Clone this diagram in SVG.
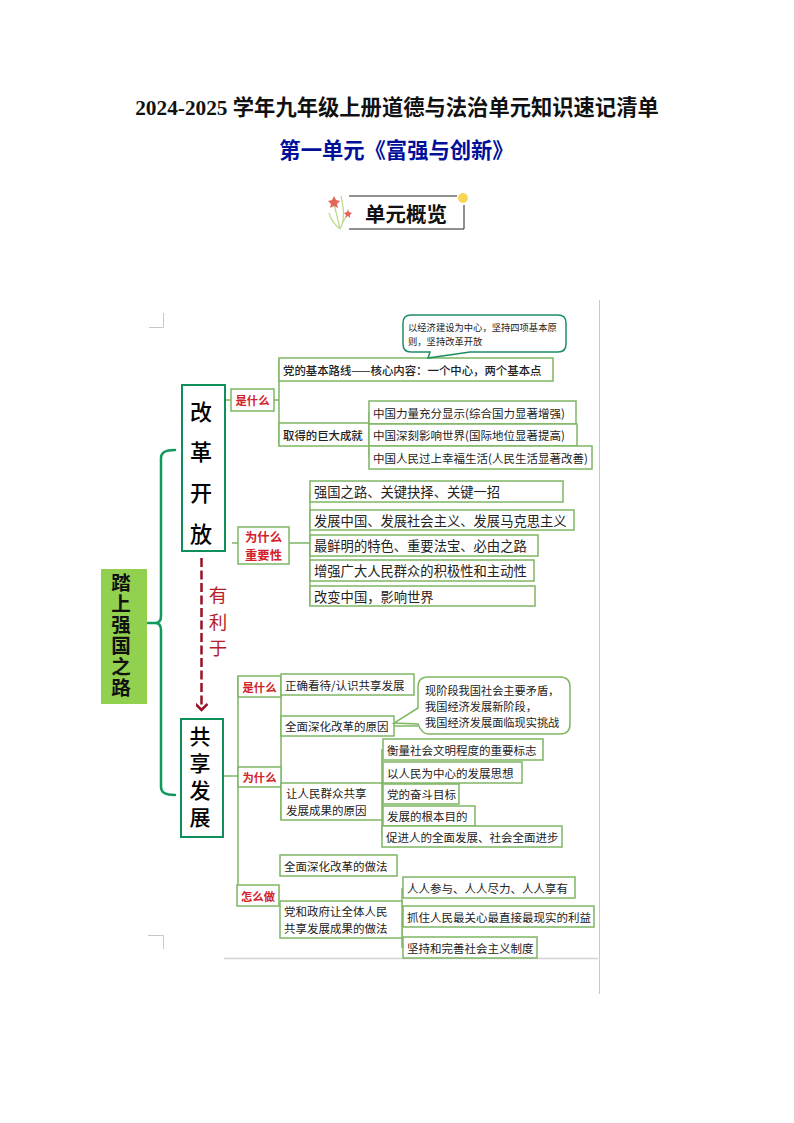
<svg xmlns="http://www.w3.org/2000/svg" width="794" height="1123" viewBox="0 0 794 1123">
<defs>
<style>
text{font-family:"Noto Sans CJK SC","Liberation Serif",serif;dominant-baseline:central;fill:#222}
.b{fill:#fff;stroke:#7fb763;stroke-width:1.5}
.t{font-size:11.5px}
.w{font-size:13.3px}
.k{font-size:11.4px;font-weight:500}
.r{font-size:11.3px;font-weight:700;fill:#d2202a;text-anchor:middle}
.m{fill:#fff;stroke:#0f8f5a;stroke-width:2}
.v{font-size:22px;font-weight:500;fill:#000;text-anchor:middle}
.u{font-size:21px;font-weight:500;fill:#000;writing-mode:vertical-rl;letter-spacing:6px}
.z{font-size:19.5px;font-weight:700;fill:#111;writing-mode:vertical-rl;letter-spacing:1.5px}
.y{font-size:18.5px;fill:#b71c2a;writing-mode:vertical-rl;letter-spacing:8px}
.c{fill:none;stroke:#7fb763;stroke-width:1.5}
.g{fill:none;stroke:#0f9a5c;stroke-width:2.5;stroke-linecap:round}
.p{fill:none;stroke:#c8c8c8;stroke-width:1}
.s{fill:#fff;stroke:#1f8f63;stroke-width:1.5}
.n{font-size:9.3px}
.q{font-size:11.2px}
</style>
<marker id="ah" markerWidth="14" markerHeight="12" refX="10" refY="6" orient="auto" markerUnits="userSpaceOnUse"><path d="M4 0L10 6L4 12" fill="none" stroke="#9b1224" stroke-width="2.500"/></marker>
</defs>
<rect width="794" height="1123" fill="#fff"/>
<g id="header">
<text x="397" y="108" text-anchor="middle" style="font-size:21.3px;font-weight:700;font-family:'Liberation Serif','Noto Sans CJK SC',serif;fill:#111">2024-2025 学年九年级上册道德与法治单元知识速记清单</text>
<text x="396.500" y="148" text-anchor="middle" style="font-size:21.300px;font-weight:700;fill:#00109a">第一单元《富强与创新》</text>
</g>
<g id="badge">
<path d="M349 196H457M464 205V229H349" fill="none" stroke="#222" stroke-width="1"/>
<circle cx="463" cy="198" r="5" fill="#f8d757"/>
<path d="M340 229C338 220 336 212 334 204M340 229C342 224 344 219 348 214M340 229C335 225 331 220 329 213M340 229C344 222 345 212 341 196" fill="none" stroke="#bcd98c" stroke-width="1.200"/>
<path d="M334 196L336 200L340 201L337 204L338 208L334 206L330 208L331 204L328 201L332 200Z" fill="#e2685a"/>
<path d="M348 209L349 212L352 213L350 215L350 218L348 216L345 218L346 215L344 213L347 212Z" fill="#e2685a"/>
<text x="406" y="213" text-anchor="middle" style="font-size:20.500px;font-weight:700;font-family:'Noto Sans CJK SC',sans-serif;fill:#111">单元概览</text>
</g>
<g id="page-marks">
<path class="p" d="M149 327.500H163.500V313M148 935.500H163.500V949M599.500 300V994"/>
<path d="M224 958.500H598" fill="none" stroke="#d4d4d4" stroke-width="1.500"/>
</g>
<g id="connectors">
<path class="g" d="M148 623H155C159 623 161 620 161 616V458C161 453 164 450 175 450M155 623C159 623 161 626 161 630V787C161 792 164 795 175 795"/>
<path d="M201.500 558V710" fill="none" stroke="#9b1224" stroke-width="2.500" stroke-dasharray="9 3.500" marker-end="url(#ah)"/>
<path class="c" d="M225 400H231M274 400H279M279 359V446M289 543H310M232 543H238M310 491V606M369 412V458"/>
<path class="c" d="M223 776H238M238 676V906M281 684V820M382 749V837M394 726H418M402 888V948"/>
</g>
<g id="root"><rect x="101" y="569" width="46" height="135" fill="#92d050"/>
<text class="z" x="121" y="573.250">踏上强国之路</text></g>
<g id="reform"><rect class="m" x="182" y="385" width="43" height="166"/>
<text class="v" x="201" y="410">改</text><text class="v" x="201" y="450">革</text><text class="v" x="201" y="491">开</text><text class="v" x="201" y="532">放</text></g>
<g id="share"><rect class="m" x="181" y="719" width="42" height="118"/>
<text class="u" x="200" y="725.500">共享发展</text></g>
<g id="beneficial"><text class="y" x="218" y="585.750">有利于</text></g>

<g id="q1"><rect class="b" x="231" y="389" width="43" height="22"/><text class="r" x="252.500" y="400">是什么</text></g>
<g id="line"><rect class="b" x="279" y="358" width="274" height="23"/><text class="k" x="283" y="369.500">党的基本路线——核心内容：一个中心，两个基本点</text></g>
<g id="achieve"><rect class="b" x="279" y="423" width="90" height="23"/><text class="k" x="283" y="434.500">取得的巨大成就</text></g>
<g id="a1"><rect class="b" x="369" y="401" width="207" height="23"/><text class="t" x="373" y="412.500">中国力量充分显示(综合国力显著增强)</text></g>
<g id="a2"><rect class="b" x="369" y="424" width="208" height="22"/><text class="t" x="373" y="435">中国深刻影响世界(国际地位显著提高)</text></g>
<g id="a3"><rect class="b" x="369" y="446" width="223" height="23"/><text class="t" x="373" y="457.500">中国人民过上幸福生活(人民生活显著改善)</text></g>
<g id="callout1"><path class="s" d="M411 315H558Q566 315 566 323V344Q566 352 558 352H470L428 358L430 352H411Q403 352 403 344V323Q403 315 411 315Z"/><text class="n" x="408" y="327">以经济建设为中心，坚持四项基本原</text><text class="n" x="408" y="341">则，坚持改革开放</text></g>

<g id="q2"><rect class="b" x="238" y="527" width="51" height="37"/><text class="r" x="263.500" y="536.500" style="font-size:12.300px">为什么</text><text class="r" x="263.500" y="554.500" style="font-size:12.300px">重要性</text></g>
<g id="w1"><rect class="b" x="310" y="481" width="253" height="21"/><text class="w" x="314" y="491.500">强国之路、关键抉择、关键一招</text></g>
<g id="w2"><rect class="b" x="310" y="510" width="264" height="20"/><text class="w" x="314" y="520">发展中国、发展社会主义、发展马克思主义</text></g>
<g id="w3"><rect class="b" x="310" y="535" width="228" height="21"/><text class="w" x="314" y="545.500">最鲜明的特色、重要法宝、必由之路</text></g>
<g id="w4"><rect class="b" x="310" y="560" width="224" height="21"/><text class="w" x="314" y="570.500">增强广大人民群众的积极性和主动性</text></g>
<g id="w5"><rect class="b" x="310" y="586" width="225" height="20"/><text class="w" x="314" y="596">改变中国，影响世界</text></g>

<g id="q3"><rect class="b" x="238" y="676" width="43" height="21"/><text class="r" x="259.500" y="686.500">是什么</text></g>
<g id="view"><rect class="b" x="281" y="674" width="133" height="21"/><text class="t" x="285" y="684.500">正确看待/认识共享发展</text></g>
<g id="q4"><rect class="b" x="238" y="767" width="43" height="20"/><text class="r" x="259.500" y="777">为什么</text></g>
<g id="cause1"><rect class="b" x="281" y="716" width="113" height="20"/><text class="t" x="285" y="726">全面深化改革的原因</text></g>
<g id="callout2"><path class="c" d="M418 687Q418 677 428 677H560Q570 677 570 687V724Q570 734 560 734H428Q422 734 418 724L394 723L418 708Z" style="fill:#fff"/><text class="q" x="425" y="690">现阶段我国社会主要矛盾，<tspan x="425" dy="16">我国经济发展新阶段，</tspan><tspan x="425" dy="16">我国经济发展面临现实挑战</tspan></text></g>
<g id="cause2"><rect class="b" x="281" y="783" width="101" height="37"/><text class="t" x="286" y="793">让人民群众共享</text><text class="t" x="286" y="810">发展成果的原因</text></g>
<g id="r1"><rect class="b" x="383" y="739" width="160" height="21"/><text class="t" x="387" y="749.500">衡量社会文明程度的重要标志</text></g>
<g id="r2"><rect class="b" x="383" y="762" width="139" height="21"/><text class="t" x="387" y="772.500">以人民为中心的发展思想</text></g>
<g id="r3"><rect class="b" x="383" y="784" width="76" height="20"/><text class="t" x="387" y="794">党的奋斗目标</text></g>
<g id="r4"><rect class="b" x="383" y="806" width="92" height="20"/><text class="t" x="387" y="816">发展的根本目的</text></g>
<g id="r5"><rect class="b" x="382" y="826" width="180" height="21"/><text class="t" x="386" y="836.500">促进人的全面发展、社会全面进步</text></g>

<g id="q5"><rect class="b" x="237" y="885" width="42" height="21"/><text class="r" x="258" y="895.500">怎么做</text></g>
<g id="do1"><rect class="b" x="280" y="855" width="117" height="21"/><text class="t" x="284" y="865.500">全面深化改革的做法</text></g>
<g id="do2"><rect class="b" x="280" y="901" width="122" height="37"/><text class="t" x="284" y="911">党和政府让全体人民</text><text class="t" x="284" y="928">共享发展成果的做法</text></g>
<g id="d1"><rect class="b" x="403" y="877" width="172" height="21"/><text class="t" x="407" y="887.500">人人参与、人人尽力、人人享有</text></g>
<g id="d2"><rect class="b" x="403" y="906" width="191" height="21"/><text class="t" x="407" y="916.500">抓住人民最关心最直接最现实的利益</text></g>
<g id="d3"><rect class="b" x="403" y="937" width="134" height="21"/><text class="t" x="407" y="947.500">坚持和完善社会主义制度</text></g>
</svg>
